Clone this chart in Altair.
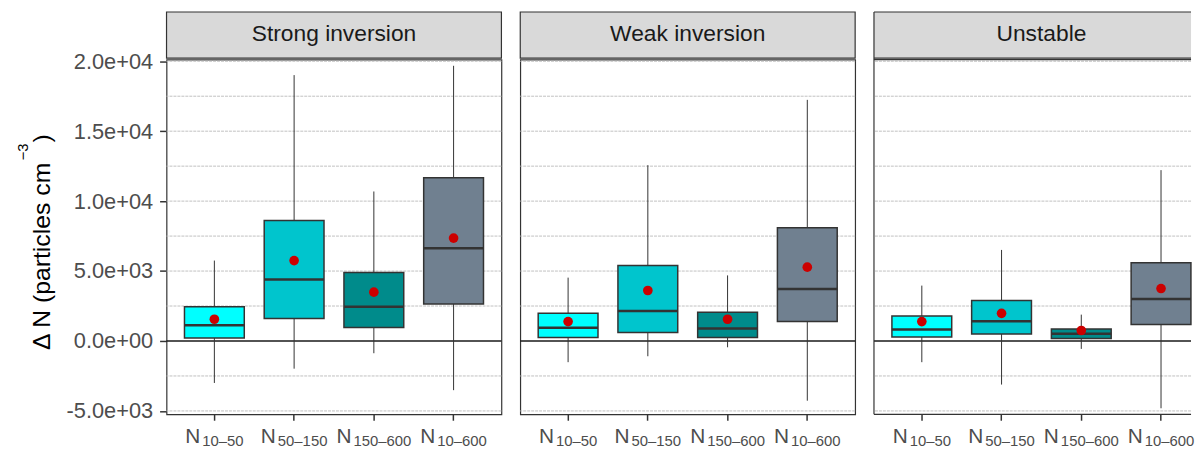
import altair as alt
import pandas as pd

# ---------------- data ----------------
regimes = ["Strong inversion", "Weak inversion", "Unstable"]
size_classes = ["N10-50", "N50-150", "N150-600", "N10-600"]
subscripts = ["10\u201350", "50\u2013150", "150\u2013600", "10\u2013600"]

whisker_low = {
    "Strong inversion": [-3000, -1980, -875, -3515],
    "Weak inversion": [-1515, -1090, -450, -4270],
    "Unstable": [-1515, -3115, -565, -4810],
}
q1 = {
    "Strong inversion": [210, 1600, 965, 2640],
    "Weak inversion": [255, 610, 255, 1390],
    "Unstable": [280, 495, 185, 1175],
}
median = {
    "Strong inversion": [1130, 4390, 2450, 6625],
    "Weak inversion": [940, 2145, 895, 3725],
    "Unstable": [820, 1415, 515, 2995],
}
q3 = {
    "Strong inversion": [2450, 8610, 4905, 11675],
    "Weak inversion": [1980, 5400, 2050, 8090],
    "Unstable": [1790, 2900, 850, 5590],
}
whisker_high = {
    "Strong inversion": [5750, 19010, 10690, 19675],
    "Weak inversion": [4530, 12570, 4690, 17240],
    "Unstable": [3960, 6510, 1885, 12215],
}
mean = {
    "Strong inversion": [1555, 5750, 3490, 7360],
    "Weak inversion": [1390, 3610, 1555, 5280],
    "Unstable": [1390, 1980, 750, 3750],
}

grid_values = [-5000, -2500, 2500, 5000, 7500, 10000, 12500, 15000, 17500, 20000]
tick_values = [-5000, 0, 5000, 10000, 15000, 20000]
zero_line = [0]
box_colors = ["#00FFFF", "#00C5CD", "#008B8B", "#708090"]
y_title_main = "\u0394 N (particles cm"
y_title_sup = "\u22123"
y_title_close = ")"

# ---------------- styling ----------------
FONT = "Liberation Sans"
W, H = 338, 358
W_LAST = 320           # last panel is cut by the page edge in the reference
N_FS, SUB_FS = 21, 15
N_W, GAP = 0.722 * N_FS, 2.0
T_FS, TS_FS = 25, 15
STEP = W / 4.2         # one category step, as in a full panel
P_IN, P_OUT = 0.25, 0.225
BORDER = "#333333"

label_expr = (
    "replace(replace(format(datum.value, '.1e'), '\u2212', '-'), "
    "regexp('e[+]([0-9])$'), 'e+0$1')"
)


def band_scale(width):
    if width >= W:
        return alt.Scale(type="band", domain=size_classes, paddingInner=P_IN, paddingOuter=P_OUT)
    # narrower (cut) panel: keep the same step and left offset as the full panels
    po = (width / STEP - (4 - P_IN)) / 2
    free = width - STEP * (4 - P_IN)
    align = (P_OUT * STEP) / free
    return alt.Scale(type="band", domain=size_classes, paddingInner=P_IN,
                     paddingOuter=po, align=min(align, 1.0))


def panel(regime, idx):
    first = idx == 0
    last = idx == len(regimes) - 1
    width = W_LAST if last else W
    df = pd.DataFrame({
        "size": size_classes,
        "sub": subscripts,
        "wlo": whisker_low[regime],
        "q1": q1[regime],
        "med": median[regime],
        "q3": q3[regime],
        "whi": whisker_high[regime],
        "mean": mean[regime],
    })
    if first:
        yaxis = alt.Axis(
            values=tick_values, labelExpr=label_expr, grid=False, domain=False,
            title=None,
            labelFontSize=22, labelColor="#4d4d4d", labelPadding=7,
            tickSize=7, tickWidth=1.5, tickColor=BORDER,
        )
    else:
        yaxis = None
    yscale = alt.Scale(domain=[-5240, 20120], nice=False, zero=False)

    def Y(f):
        return alt.Y(f, type="quantitative", scale=yscale, axis=yaxis)

    xenc = alt.X(
        "size:N", sort=size_classes, scale=band_scale(width),
        axis=alt.Axis(labels=False, title=None, domain=False, grid=False, ticks=True,
                      tickSize=6, tickWidth=1.5, tickColor=BORDER),
    )
    base = alt.Chart(df)
    strip_df = pd.DataFrame({"regime": [regime]})

    layers = [
        alt.Chart(pd.DataFrame({"g": grid_values})).mark_rule(
            color="#c0c0c0", strokeWidth=1, strokeDash=[3, 1]
        ).encode(y=Y("g")),
        alt.Chart(pd.DataFrame({"z": zero_line})).mark_rule(
            color="#1a1a1a", strokeWidth=1.5
        ).encode(y=Y("z")),
        base.mark_rule(color=BORDER, strokeWidth=1).encode(x=xenc, y=Y("wlo"), y2="whi:Q"),
        base.mark_bar(stroke=BORDER, strokeWidth=1.5, opacity=1).encode(
            x=xenc, y=Y("q1"), y2="q3:Q",
            color=alt.Color("size:N", scale=alt.Scale(domain=size_classes, range=box_colors), legend=None),
        ),
        base.mark_tick(color=BORDER, thickness=2.5, opacity=1, size=0.75 * STEP).encode(
            x=xenc, y=Y("med")),
        base.mark_circle(color="#CC0000", size=95, opacity=1).encode(x=xenc, y=Y("mean")),
    ]
    if not last:
        layers.append(
            alt.Chart(strip_df).mark_rect(fill="#D9D9D9", stroke=BORDER, strokeWidth=1.2).encode(
                x=alt.value(0), x2=alt.value(width), y=alt.value(-48), y2=alt.value(-1.5))
        )
    else:
        # the page edge cuts this panel: no right-hand border, as in the reference
        layers += [
            alt.Chart(strip_df).mark_rect(fill="#D9D9D9").encode(
                x=alt.value(0), x2=alt.value(width), y=alt.value(-48), y2=alt.value(-1.5)),
            alt.Chart(strip_df).mark_rule(color=BORDER, strokeWidth=1.2).encode(
                x=alt.value(0), y=alt.value(-48), y2=alt.value(H)),
            alt.Chart(strip_df).mark_rule(color=BORDER, strokeWidth=1.2).encode(
                x=alt.value(0), x2=alt.value(width), y=alt.value(-48)),
            alt.Chart(strip_df).mark_rule(color=BORDER, strokeWidth=1.2).encode(
                x=alt.value(0), x2=alt.value(width), y=alt.value(-1.5)),
            alt.Chart(strip_df).mark_rule(color=BORDER, strokeWidth=1.2).encode(
                x=alt.value(0), x2=alt.value(width), y=alt.value(0)),
            alt.Chart(strip_df).mark_rule(color=BORDER, strokeWidth=1.2).encode(
                x=alt.value(0), x2=alt.value(width), y=alt.value(H)),
        ]
    layers.append(
        alt.Chart(strip_df).mark_text(
            fontSize=23, color="#1a1a1a", font=FONT, align="center", baseline="alphabetic"
        ).encode(x=alt.value(W / 2), y=alt.value(-18.5), text="regime:N")
    )
    for j, s in enumerate(size_classes):
        total = N_W + GAP + len(subscripts[j]) * 0.556 * SUB_FS
        left = -total / 2
        sel = base.transform_filter(alt.datum.size == s)
        layers.append(
            sel.mark_text(fontSize=N_FS, font=FONT, color="#4d4d4d", align="left",
                          baseline="alphabetic", dx=left).encode(
                x=xenc, y=alt.value(H + 29), text=alt.value("N"))
        )
        layers.append(
            sel.mark_text(fontSize=SUB_FS, font=FONT, color="#4d4d4d", align="left",
                          baseline="alphabetic", dx=left + N_W + GAP).encode(
                x=xenc, y=alt.value(H + 32.5), text="sub:N")
        )
    if first:
        title_df = pd.DataFrame({"t": [y_title_main]})
        main_len = 7.613 * T_FS
        start_y = 293
        sup_start = start_y - main_len - 1
        close_start = sup_start - (0.584 + 0.556) * TS_FS - 1
        layers += [
            alt.Chart(title_df).mark_text(
                fontSize=T_FS, font=FONT, color="#000000", angle=270,
                align="left", baseline="alphabetic"
            ).encode(x=alt.value(-118), y=alt.value(start_y), text=alt.value(y_title_main)),
            alt.Chart(title_df).mark_text(
                fontSize=TS_FS, font=FONT, color="#000000", angle=270,
                align="left", baseline="alphabetic"
            ).encode(x=alt.value(-140), y=alt.value(sup_start), text=alt.value(y_title_sup)),
            alt.Chart(title_df).mark_text(
                fontSize=T_FS, font=FONT, color="#000000", angle=270,
                align="left", baseline="alphabetic"
            ).encode(x=alt.value(-118), y=alt.value(close_start), text=alt.value(y_title_close)),
        ]
    props = dict(width=width, height=H)
    if last:
        props["view"] = alt.ViewBackground(stroke="transparent")
    return alt.layer(*layers).properties(**props)


chart = alt.hconcat(
    *[panel(r, i) for i, r in enumerate(regimes)], spacing=15
).properties(
    padding={"left": 7, "top": 0, "right": 0, "bottom": -2.5}
).configure_view(
    stroke=BORDER, strokeWidth=1.2
).configure_axis(
    labelFont=FONT, titleFont=FONT
).configure_text(font=FONT)

chart.save("out.html", embed_options={"renderer": "svg", "actions": False})
